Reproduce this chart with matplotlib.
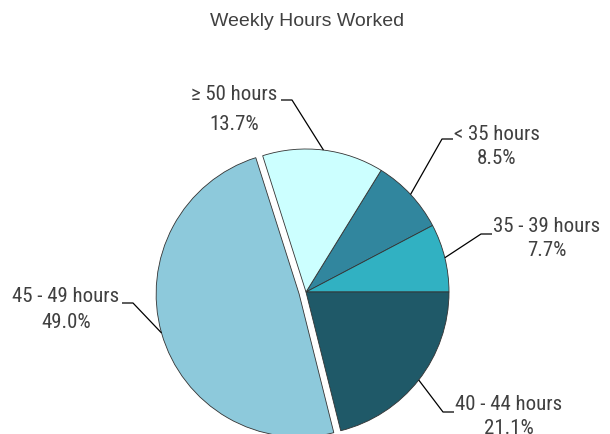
import numpy as np
import matplotlib
matplotlib.use("Agg")
import matplotlib.pyplot as plt
from matplotlib import font_manager as fm

# data (clockwise from the top-right slice)
categories = ["< 35 hours", "35 - 39 hours", "40 - 44 hours", "45 - 49 hours", "≥ 50 hours"]
shares = [8.5, 7.7, 21.1, 49.0, 13.7]
colors = ["#31869e", "#31b1c2", "#1f5968", "#8dc9db", "#ccffff"]
explode = [0, 0, 0, 0.05, 0]

W, H = 610, 434
TXT = "#404040"

available = {f.name for f in fm.fontManager.ttflist}
narrow = [n for n in ["Liberation Sans Narrow", "Arial Narrow", "Roboto Condensed",
                      "Archivo Narrow", "PT Sans Narrow", "Fira Sans Condensed",
                      "Open Sans Condensed"] if n in available]
regular = [n for n in ["Liberation Sans", "Arimo", "Arial"] if n in available]
if narrow:
    LABEL_FONT, LABEL_SIZE = [narrow[0], "DejaVu Sans"], 15
else:
    LABEL_FONT, LABEL_SIZE = regular[:1] + ["DejaVu Sans"], 13.5
TITLE_FONT = regular[:1] + ["DejaVu Sans"]

fig = plt.figure(figsize=(W / 100, H / 100), dpi=100)
ax = fig.add_axes([0, 0, 1, 1])


def py(y):
    # pixel row (top-down) -> data y
    return H - y


cx, cy, r = 306, py(292), 143
start = 360 * (shares[0] + shares[1]) / 100
wedges, _ = ax.pie(shares, colors=colors, explode=[e * r for e in explode],
                   startangle=start, counterclock=False, center=(cx, cy), radius=r,
                   wedgeprops=dict(edgecolor="#333333", linewidth=0.6))

# label layout: text centre (px), elbow of leader (px), side of the text
layout = {
    "< 35 hours": ((497, 134), (442, 139), "right"),
    "35 - 39 hours": ((547, 226), (481, 234), "right"),
    "40 - 44 hours": ((509, 404), (443, 412), "right"),
    "45 - 49 hours": ((66, 297), (133, 303), "left"),
    "≥ 50 hours": ((234, 95), (292, 100), "left"),
}

for w, name, pct in zip(wedges, categories, shares):
    (tx, ty), (ex, ey), side = layout[name]
    mid = np.deg2rad((w.theta1 + w.theta2) / 2)
    wx, wy = w.center
    ax_, ay_ = wx + r * np.cos(mid), wy + r * np.sin(mid)
    endx = ex + 11 if side == "right" else ex - 11
    ax.plot([endx, ex, ax_], [py(ey), py(ey), ay_], color="black", lw=0.9,
            solid_capstyle="butt")
    gap = 29 if name.startswith("≥") else 25
    ax.text(tx, py(ty), name, ha="center", va="center", fontsize=LABEL_SIZE,
            family=LABEL_FONT, color=TXT)
    ax.text(tx, py(ty + gap), f"{pct:.1f}%", ha="center", va="center",
            fontsize=LABEL_SIZE, family=LABEL_FONT, color=TXT)

ax.text(W / 2 + 2, py(22), "Weekly Hours Worked", ha="center", va="center",
        fontsize=14, family=TITLE_FONT, color=TXT)

ax.set_xlim(0, W)
ax.set_ylim(0, H)
ax.axis("off")

fig.savefig("out.png", dpi=100)
